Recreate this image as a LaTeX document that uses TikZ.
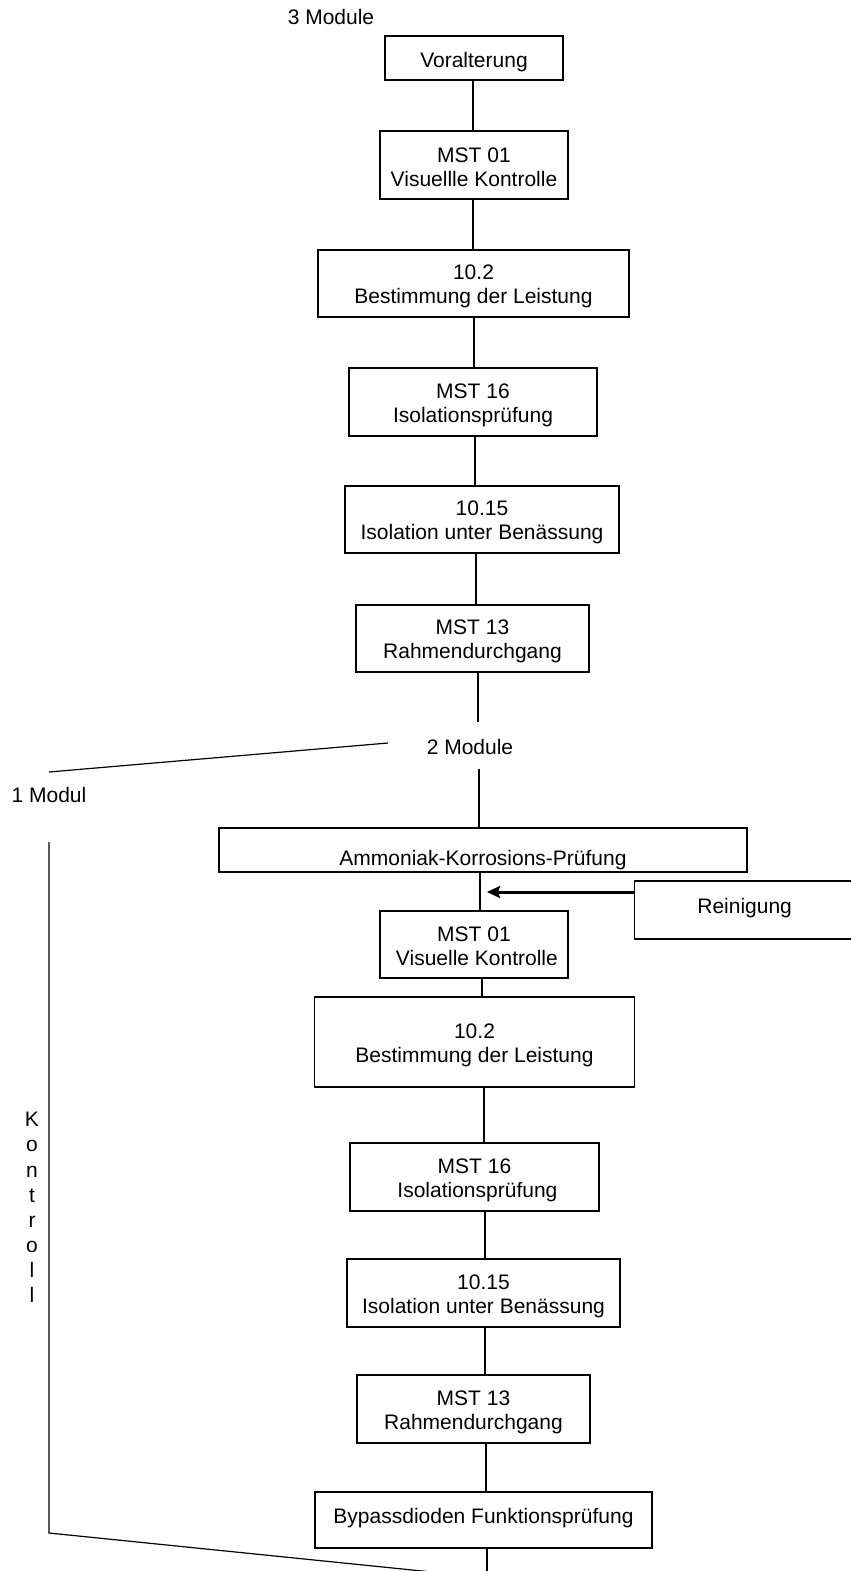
\documentclass[tikz,border=0pt]{standalone}
\usepackage{fontspec}
\setmainfont{Liberation Sans}
\usetikzlibrary{arrows.meta}
\newcommand\tp{\rule{0pt}{21pt}}
\newcommand\bt{\rule[-3pt]{0pt}{3pt}}
\begin{document}
\begin{tikzpicture}[x=1pt,y=-1pt,
  every node/.style={font=\fontsize{21}{24}\selectfont},
  box/.style={draw,line width=1.3pt,inner sep=0pt,align=center},
  conn/.style={line width=1.2pt},
  plain/.style={inner sep=0pt,align=center}]
\useasboundingbox (0,0) rectangle (851,1571);
% upper chain
\node[plain,anchor=base] (t3) at (331,25) {3 Module};
\node[box,minimum width=178,minimum height=44,text height=20pt,text depth=2pt] (v0) at (474,58) {Voralterung};
\node[box,minimum width=188,minimum height=68] (m1) at (474,165) {\tp MST 01\\Visuellle Kontrolle\bt};
\node[box,minimum width=311,minimum height=67] (l1) at (473.5,283.5) {\tp 10.2\\Bestimmung der Leistung\bt};
\node[box,minimum width=248,minimum height=68] (i1) at (473,402) {\tp MST 16\\Isolationsprüfung\bt};
\node[box,minimum width=274,minimum height=67] (b1) at (482,519.5) {\tp 10.15\\Isolation unter Benässung\bt};
\node[box,minimum width=233,minimum height=67] (r1) at (472.5,638.5) {\tp MST 13\\Rahmendurchgang\bt};
\coordinate (x1) at (473,0);
\coordinate (x2) at (473,0);
\coordinate (x3) at (474,0);
\coordinate (x4) at (475,0);
\coordinate (x5) at (476,0);
\coordinate (x6) at (478,0);
\draw[conn] (v0.south -| x1) -- (m1.north -| x1);
\draw[conn] (m1.south -| x2) -- (l1.north -| x2);
\draw[conn] (l1.south -| x3) -- (i1.north -| x3);
\draw[conn] (i1.south -| x4) -- (b1.north -| x4);
\draw[conn] (b1.south -| x5) -- (r1.north -| x5);
\coordinate (e6) at (478,722);
\draw[conn] (r1.south -| x6) -- (e6);
% split
\node[plain,anchor=base] (t2) at (470,754) {2 Module};
\node[plain,anchor=base] (t1) at (49,802) {1 Modul};
\coordinate (d1) at (388,743);
\coordinate (d2) at (49,772);
\draw[conn] (d1) -- (d2);
\coordinate (s7) at (479,769);
% lower chain
\node[box,minimum width=528,minimum height=44,text height=32pt,text depth=2pt] (am) at (483,850) {Ammoniak-Korrosions-Prüfung};
\draw[conn] (s7) -- (am.north -| s7);
\node[box,minimum width=222,minimum height=58,text height=11pt,text depth=5pt,anchor=west] (re) at (634,910) {Reinigung\hspace*{2pt}};
\node[box,minimum width=188,minimum height=67] (m2) at (474,944.5) {\tp MST 01\\\ Visuelle Kontrolle\bt};
\node[box,minimum width=320,minimum height=90] (l2) at (474.5,1042) {\tp 10.2\\Bestimmung der Leistung\bt};
\node[box,minimum width=249,minimum height=68] (i2) at (474.5,1177) {\tp MST 16\\\ Isolationsprüfung\bt};
\node[box,minimum width=273,minimum height=68] (b2) at (483.5,1293) {\tp 10.15\\Isolation unter Benässung\bt};
\node[box,minimum width=233,minimum height=68] (r2) at (473.5,1409) {\tp MST 13\\Rahmendurchgang\bt};
\node[box,minimum width=337,minimum height=56,text height=11pt,text depth=5pt] (bp) at (483.5,1520) {Bypassdioden Funktionsprüfung};
\coordinate (y8) at (480,0);
\coordinate (y9) at (482,0);
\coordinate (y10) at (484,0);
\coordinate (y11) at (485,0);
\coordinate (y12) at (485,0);
\coordinate (y13) at (486,0);
\coordinate (y14) at (487,0);
\draw[conn] (am.south -| y8) -- (m2.north -| y8);
\draw[conn] (m2.south -| y9) -- (l2.north -| y9);
\draw[conn] (l2.south -| y10) -- (i2.north -| y10);
\draw[conn] (i2.south -| y11) -- (b2.north -| y11);
\draw[conn] (b2.south -| y12) -- (r2.north -| y12);
\draw[conn] (r2.south -| y13) -- (bp.north -| y13);
\coordinate (eb) at (487,1571);
\draw[conn] (bp.south -| y14) -- (eb);
% cleaning arrow
\coordinate (ar) at (487,892);
\draw[line width=3pt,-{Stealth[length=13pt,width=12pt,inset=2pt]}] (re.west |- ar) -- (ar);
% control loop
\coordinate (k1) at (49,842);
\coordinate (k2) at (49,1533);
\coordinate (k3) at (432,1572);
\draw[conn] (k1) -- (k2) -- (k3);
\node[plain,font=\fontsize{21}{25.1}\selectfont] (kt) at (32,1207.5) {K\\o\\n\\t\\r\\o\\l\\l};
\end{tikzpicture}
\end{document}
